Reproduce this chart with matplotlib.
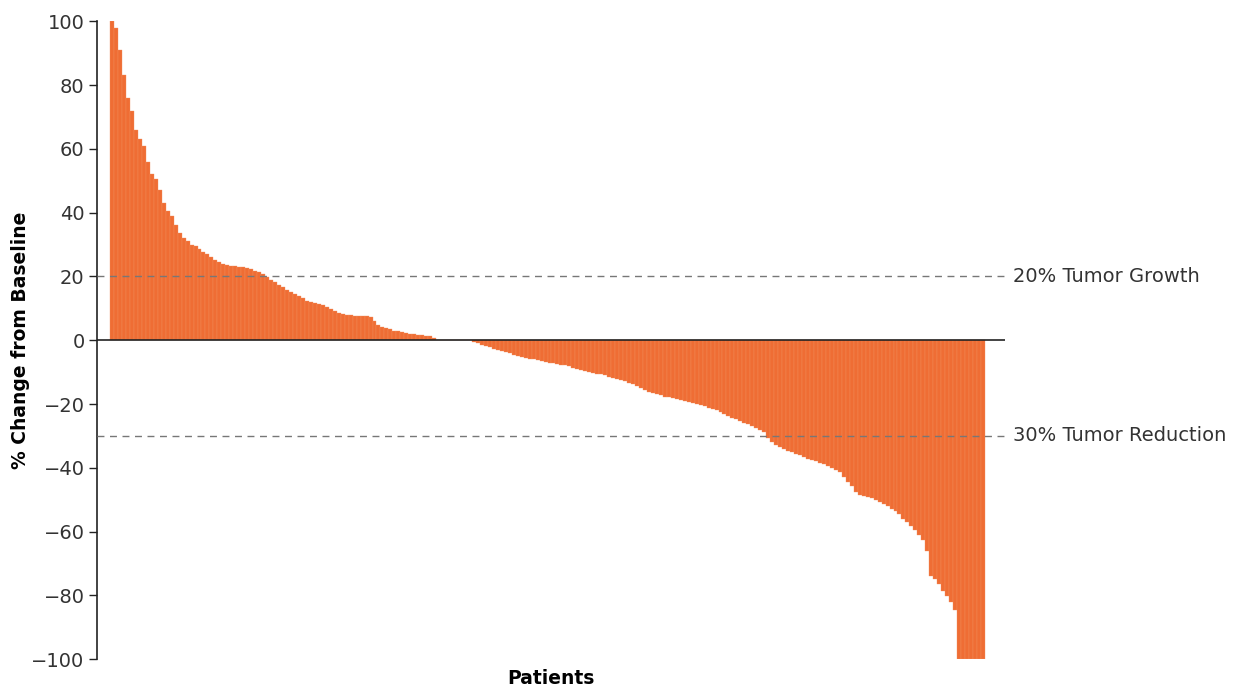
import matplotlib
matplotlib.use("Agg")
import matplotlib.pyplot as plt
import numpy as np

plt.rcParams.update({
    "font.family": ["DejaVu Sans"],
    "font.size": 14,
})

# best % change from baseline, one value per patient, sorted high -> low
pct_change = [
    100, 98, 91, 83, 76, 72, 66, 63, 61, 56,
    52, 50.5, 47, 43, 40.5, 39, 36, 33.5, 32, 31,
    30, 29.4, 28.5, 27.8, 27, 26, 25.2, 24.5, 23.9, 23.6,
    23.4, 23.2, 23.1, 22.9, 22.6, 22.2, 21.8, 21.4, 20.9, 19.7,
    19, 18.2, 17.4, 16.6, 15.9, 15.1, 14.4, 13.8, 13.2, 12.4,
    12, 11.7, 11.4, 11, 10.3, 9.8, 9.2, 8.6, 8.1, 7.9,
    7.8, 7.7, 7.6, 7.6, 7.5, 7.3, 6, 4.7, 4.2, 3.8,
    3.4, 3.0, 2.8, 2.6, 2.4, 2.1, 1.9, 1.7, 1.5, 1.3,
    1.2, 0.6, 0, 0, 0, 0, 0, 0, 0, 0,
    0, -0.5, -1.0, -1.4, -1.8, -2.2, -2.6, -3.0, -3.3, -3.7,
    -4.1, -4.5, -4.9, -5.2, -5.5, -5.8, -6.0, -6.2, -6.5, -6.7,
    -7.0, -7.2, -7.5, -7.7, -7.9, -8.2, -8.6, -9.0, -9.4, -9.7,
    -10.0, -10.2, -10.5, -10.7, -11.0, -11.4, -11.8, -12.1, -12.5, -12.9,
    -13.3, -13.7, -14.3, -14.9, -15.5, -16.1, -16.6, -17.0, -17.3, -17.7,
    -17.9, -18.2, -18.5, -18.8, -19.0, -19.3, -19.6, -19.9, -20.3, -20.7,
    -21.1, -21.5, -22.0, -22.6, -23.2, -23.8, -24.3, -24.8, -25.4, -25.9,
    -26.3, -26.9, -27.5, -28.1, -28.8, -30.5, -32.0, -32.8, -33.4, -34.0,
    -34.6, -35.0, -35.6, -36.1, -36.7, -37.2, -37.6, -38.0, -38.5, -38.9,
    -39.4, -40.0, -40.6, -41.3, -42.8, -44.5, -45.8, -47.5, -48.4, -48.8,
    -49.2, -49.6, -50.0, -50.7, -51.3, -51.9, -52.8, -53.6, -54.6, -56.0,
    -56.9, -58.3, -59.5, -61.0, -62.5, -66.0, -73.8, -74.8, -76.5, -78.5,
    -80.2, -82.0, -84.5, -100, -100, -100, -100, -100, -100, -100,
]

growth_cut = 20
reduction_cut = -30
thresholds = [(growth_cut, "20% Tumor Growth"), (reduction_cut, "30% Tumor Reduction")]
yticks = [100, 80, 60, 40, 20, 0, -20, -40, -60, -80, -100]

BAR_COLOR = "#EF6D34"

fig = plt.figure(figsize=(12.5, 6.86), dpi=100)
ax = fig.add_axes([0.0776, 0.039, 0.7264, 0.930])

x = np.arange(len(pct_change))
ax.bar(x, pct_change, width=1.0, align="edge", color=BAR_COLOR,
       edgecolor="#F3905F", linewidth=0.25)

ax.axhline(0, color="#222222", linewidth=1.2, zorder=3)
for yv, label in thresholds:
    ax.axhline(yv, color="#777777", linewidth=1.0, linestyle=(0, (5, 4)), zorder=3)
    ax.annotate(label, xy=(1.0, yv), xycoords=("axes fraction", "data"),
                xytext=(6, 0), textcoords="offset points",
                va="center", ha="left", fontsize=14, color="#333333")

ax.set_xlim(-3.27, len(pct_change) + 5.03)
ax.set_ylim(-100, 100)
ax.set_yticks(yticks)
ax.set_yticklabels([str(t).replace("-", "\u2212") for t in yticks], color="#333333")
ax.set_xticks([])

for side in ["top", "right", "bottom"]:
    ax.spines[side].set_visible(False)
ax.spines["left"].set_color("#222222")
ax.spines["left"].set_linewidth(1.2)
ax.tick_params(axis="y", direction="out", length=6, width=1.0, color="#222222", pad=3)

ax.set_ylabel("% Change from Baseline", fontweight="bold", fontsize=13.5)
ax.yaxis.set_label_coords(-0.074, 0.5)
ax.set_xlabel("Patients", fontweight="bold", fontsize=13.5, labelpad=7)

fig.savefig("out.png", dpi=100)
plt.close(fig)
